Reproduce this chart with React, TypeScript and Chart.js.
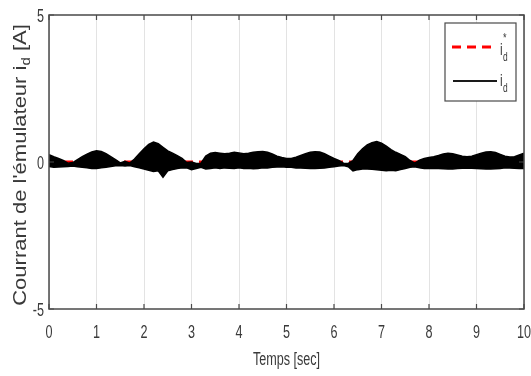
import React, { useEffect, useRef } from 'react';
import { Chart, registerables } from 'chart.js';
Chart.register(...registerables);

// ---- data ----
const TIME = [
  0, 0.1, 0.2, 0.3, 0.4, 0.5, 0.6, 0.7, 0.8, 0.9,
  1, 1.1, 1.2, 1.3, 1.4, 1.5, 1.6, 1.7, 1.8, 1.9,
  2, 2.1, 2.2, 2.3, 2.4, 2.5, 2.6, 2.7, 2.8, 2.9,
  3, 3.1, 3.2, 3.3, 3.4, 3.5, 3.6, 3.7, 3.8, 3.9,
  4, 4.1, 4.2, 4.3, 4.4, 4.5, 4.6, 4.7, 4.8, 4.9,
  5, 5.1, 5.2, 5.3, 5.4, 5.5, 5.6, 5.7, 5.8, 5.9,
  6, 6.1, 6.2, 6.3, 6.4, 6.5, 6.6, 6.7, 6.8, 6.9,
  7, 7.1, 7.2, 7.3, 7.4, 7.5, 7.6, 7.7, 7.8, 7.9,
  8, 8.1, 8.2, 8.3, 8.4, 8.5, 8.6, 8.7, 8.8, 8.9,
  9, 9.1, 9.2, 9.3, 9.4, 9.5, 9.6, 9.7, 9.8, 9.9,
  10,
];

// upper envelope of the oscillating measured current i_d
const ID_UPPER = [
  0.25, 0.18, 0.12, 0.05, -0.04, -0.02, 0.08, 0.18, 0.27, 0.34,
  0.38, 0.36, 0.28, 0.18, 0.08, -0.03, 0.02, -0.04, 0.1, 0.28,
  0.45, 0.6, 0.68, 0.62, 0.5, 0.38, 0.3, 0.22, 0.12, -0.02,
  0.0, -0.05, -0.04, 0.2, 0.3, 0.32, 0.3, 0.28, 0.3, 0.33,
  0.31, 0.28, 0.3, 0.33, 0.35, 0.36, 0.33, 0.27, 0.2, 0.15,
  0.12, 0.12, 0.16, 0.22, 0.28, 0.33, 0.35, 0.34, 0.28, 0.2,
  0.12, 0.05, -0.04, -0.05, 0.05, 0.28, 0.45, 0.58, 0.66, 0.7,
  0.64, 0.54, 0.42, 0.33, 0.26, 0.18, 0.05, -0.04, 0.06, 0.12,
  0.15, 0.18, 0.22, 0.27, 0.3, 0.28, 0.24, 0.2, 0.18, 0.2,
  0.25, 0.3, 0.34, 0.35, 0.32, 0.26, 0.2, 0.17, 0.18, 0.24,
  0.3,
];

// lower envelope of the oscillating measured current i_d
const ID_LOWER = [
  -0.15, -0.18, -0.17, -0.16, -0.15, -0.14, -0.16, -0.18, -0.2, -0.22,
  -0.22, -0.2, -0.18, -0.15, -0.13, -0.12, -0.14, -0.12, -0.16, -0.2,
  -0.24, -0.28, -0.32, -0.3, -0.52, -0.3, -0.26, -0.22, -0.2, -0.2,
  -0.26, -0.22, -0.18, -0.24, -0.22, -0.2, -0.22, -0.2, -0.21, -0.22,
  -0.2, -0.22, -0.21, -0.23, -0.22, -0.2, -0.2, -0.18, -0.17, -0.16,
  -0.18, -0.18, -0.2, -0.2, -0.21, -0.22, -0.22, -0.21, -0.2, -0.18,
  -0.16, -0.14, -0.12, -0.16, -0.3, -0.26, -0.24, -0.24, -0.25, -0.26,
  -0.28, -0.3, -0.28, -0.3, -0.26, -0.22, -0.18, -0.16, -0.2, -0.22,
  -0.22, -0.22, -0.22, -0.23, -0.24, -0.24, -0.22, -0.21, -0.2, -0.21,
  -0.22, -0.23, -0.24, -0.24, -0.23, -0.22, -0.2, -0.2, -0.21, -0.22,
  -0.22,
];

// reference current i_d*
const REF_TIME = [0, 10];
const REF_ID = [0, 0];

const X_TICKS = [0, 1, 2, 3, 4, 5, 6, 7, 8, 9, 10];
const Y_TICKS = [-5, 0, 5];
const X_TITLE = 'Temps [sec]';
const Y_TITLE_MAIN = "Courrant de l'émulateur i";
const Y_TITLE_SUB = 'd';
const Y_TITLE_END = ' [A]';

const FONT = '"Liberation Sans", Arial, sans-serif';

function sqText(ctx: CanvasRenderingContext2D, text: string, x: number, y: number, size: number,
  align: CanvasTextAlign, sx = 0.7, baseline: CanvasTextBaseline = 'middle') {
  ctx.save();
  ctx.translate(x, y);
  ctx.scale(sx, 1);
  ctx.font = `${size}px ${FONT}`;
  ctx.textAlign = align;
  ctx.textBaseline = baseline;
  ctx.fillText(text, 0, 0);
  ctx.restore();
}

const decorPlugin = {
  id: 'decor',
  afterDraw(chart: any) {
    const ctx: CanvasRenderingContext2D = chart.ctx;
    const { left, right, top, bottom } = chart.chartArea;
    const xs = chart.scales.x;
    const ys = chart.scales.y;
    ctx.save();
    // frame
    ctx.strokeStyle = '#4a4a4a';
    ctx.lineWidth = 1.5;
    ctx.strokeRect(left, top, right - left, bottom - top);
    // ticks
    ctx.lineWidth = 1.2;
    ctx.beginPath();
    X_TICKS.forEach((v) => {
      const px = xs.getPixelForValue(v);
      ctx.moveTo(px, bottom); ctx.lineTo(px, bottom - 5);
      ctx.moveTo(px, top); ctx.lineTo(px, top + 5);
    });
    Y_TICKS.forEach((v) => {
      const py = ys.getPixelForValue(v);
      ctx.moveTo(left, py); ctx.lineTo(left + 5, py);
      ctx.moveTo(right, py); ctx.lineTo(right - 5, py);
    });
    ctx.stroke();
    // tick labels
    ctx.fillStyle = '#3a3a3a';
    X_TICKS.forEach((v) => {
      sqText(ctx, String(v), xs.getPixelForValue(v), bottom + 24, 18, 'center');
    });
    Y_TICKS.forEach((v) => {
      sqText(ctx, String(v), left - 5, ys.getPixelForValue(v) + 2, 18, 'right');
    });
    // x title
    sqText(ctx, X_TITLE, xs.getPixelForValue(5), bottom + 51, 18, 'center');
    // y title (rotated, with subscript)
    ctx.save();
    ctx.translate(26, 165);
    ctx.rotate(-Math.PI / 2);
    ctx.scale(1, 0.8);
    ctx.textBaseline = 'alphabetic';
    ctx.textAlign = 'left';
    ctx.font = `22px ${FONT}`;
    const w1 = ctx.measureText(Y_TITLE_MAIN).width;
    const w3 = ctx.measureText(Y_TITLE_END).width;
    ctx.font = `15px ${FONT}`;
    const w2 = ctx.measureText(Y_TITLE_SUB).width;
    const total = w1 + w2 + w3;
    let cx = -total / 2;
    ctx.font = `22px ${FONT}`;
    ctx.fillText(Y_TITLE_MAIN, cx, 0);
    cx += w1;
    ctx.font = `15px ${FONT}`;
    ctx.fillText(Y_TITLE_SUB, cx, 5);
    cx += w2;
    ctx.font = `22px ${FONT}`;
    ctx.fillText(Y_TITLE_END, cx, 0);
    ctx.restore();

    // legend box
    const lx = 445, ly = 23, lw = 71, lh = 78;
    ctx.fillStyle = '#fff';
    ctx.fillRect(lx, ly, lw, lh);
    ctx.strokeStyle = '#4a4a4a';
    ctx.lineWidth = 1.2;
    ctx.strokeRect(lx, ly, lw, lh);
    // red dashed sample
    ctx.strokeStyle = '#ff0000';
    ctx.lineWidth = 3;
    ctx.setLineDash([9, 6]);
    ctx.beginPath();
    ctx.moveTo(452, 47); ctx.lineTo(497, 47);
    ctx.stroke();
    ctx.setLineDash([]);
    // black sample
    ctx.strokeStyle = '#1a1a1a';
    ctx.lineWidth = 2;
    ctx.beginPath();
    ctx.moveTo(453, 81); ctx.lineTo(497, 81);
    ctx.stroke();
    // legend labels
    ctx.fillStyle = '#3a3a3a';
    sqText(ctx, 'i', 500, 50, 17, 'left');
    sqText(ctx, '*', 503, 38, 13, 'left');
    sqText(ctx, 'd', 503, 58, 12, 'left');
    sqText(ctx, 'i', 500, 81, 17, 'left');
    sqText(ctx, 'd', 503, 89, 12, 'left');
    ctx.restore();
  },
};

export default function App() {
  const ref = useRef<HTMLCanvasElement>(null);
  useEffect(() => {
    if (!ref.current) return;
    const upper = TIME.map((t, i) => ({ x: t, y: ID_UPPER[i] }));
    const lower = TIME.map((t, i) => ({ x: t, y: ID_LOWER[i] }));
    const ref_ = REF_TIME.map((t, i) => ({ x: t, y: REF_ID[i] }));
    const chart = new Chart(ref.current, {
      type: 'line',
      data: {
        datasets: [
          {
            label: 'i_d',
            data: upper,
            borderColor: '#000',
            borderWidth: 1.5,
            backgroundColor: '#000',
            fill: '+1',
            pointRadius: 0,
            tension: 0,
            order: 1,
          },
          {
            label: 'i_d low',
            data: lower,
            borderColor: '#000',
            borderWidth: 1.5,
            fill: false,
            pointRadius: 0,
            tension: 0,
            order: 1,
          },
          {
            label: 'i_d*',
            data: ref_,
            borderColor: '#ff0000',
            borderWidth: 3,
            borderDash: [9, 6],
            fill: false,
            pointRadius: 0,
            order: 2,
          },
        ],
      },
      options: {
        responsive: false,
        animation: false,
        devicePixelRatio: 1,
        layout: { padding: { top: 15, right: 7, left: 0, bottom: 0 } },
        plugins: { legend: { display: false }, tooltip: { enabled: false } },
        scales: {
          x: {
            type: 'linear',
            min: 0,
            max: 10,
            ticks: { display: false, stepSize: 1 },
            grid: { color: '#e3e3e3', lineWidth: 1, drawTicks: false },
            border: { display: false },
            afterFit: (s: any) => { s.height = 67; },
          },
          y: {
            type: 'linear',
            min: -5,
            max: 5,
            ticks: { display: false, stepSize: 5 },
            grid: { display: false, drawTicks: false },
            border: { display: false },
            afterFit: (s: any) => { s.width = 49; },
          },
        },
      },
      plugins: [decorPlugin],
    } as any);
    return () => chart.destroy();
  }, []);
  return (
    <div style={{ position: 'fixed', left: 0, top: 0, width: 531, height: 376, background: '#fff' }}>
      <canvas ref={ref} width={531} height={376} style={{ display: 'block' }} />
    </div>
  );
}
